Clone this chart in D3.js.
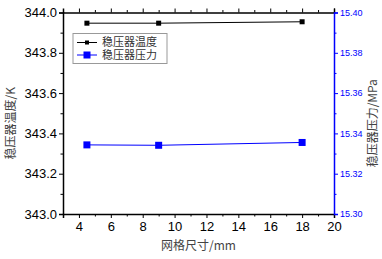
<!DOCTYPE html>
<html>
<head>
<meta charset="utf-8">
<script src="https://cdn.jsdelivr.net/npm/d3@7"></script>
<style>
  body { margin: 0; background: #fff; }
  svg text { font-family: "Liberation Sans", Arial, sans-serif; }
  .cjk { font-family: "Noto Sans CJK SC", sans-serif; }
</style>
</head>
<body>
<div id="chart"></div>
<script>
// grid size (mm) vs pressurizer temperature / pressure
const gridSize = [4.5, 9, 18]
const temperature = [343.947, 343.947, 343.954]
const pressure = [15.3343, 15.3341, 15.3355]
const xTicks = [4, 6, 8, 10, 12, 14, 16, 18, 20]
const tempTicks = [343.0, 343.2, 343.4, 343.6, 343.8, 344.0]
const presTicks = [15.30, 15.32, 15.34, 15.36, 15.38, 15.40]
const seriesNames = ["稳压器温度", "稳压器压力"]

const width = 382
const height = 259
const margin = { top: 12.5, right: 48, bottom: 45, left: 63 }
const plotWidth = width - margin.left - margin.right
const plotHeight = height - margin.top - margin.bottom
const blue = "#0000ff"

const svg = d3.select("#chart").append("svg")
  .attr("viewBox", [0, 0, width, height])
  .attr("width", width)
  .attr("height", height)

const plot = svg.append("g").attr("transform", `translate(${margin.left},${margin.top})`)

const xScale = d3.scaleLinear().domain([3, 20]).range([0, plotWidth])
const yTemp = d3.scaleLinear().domain([343.0, 344.0]).range([plotHeight, 0])
const yPres = d3.scaleLinear().domain([15.30, 15.40]).range([plotHeight, 0])

// minor ticks
const xMinor = d3.range(3, 20, 1).filter(v => !xTicks.includes(v))
const tempMinor = d3.range(343.1, 344.0, 0.2)
const presMinor = d3.range(15.31, 15.40, 0.02)

function styleAxis(g, color) {
  g.select(".domain").attr("stroke", color).attr("stroke-width", 1.5)
  g.selectAll(".tick line").attr("stroke", color).attr("stroke-width", 1)
  g.selectAll(".tick text").attr("fill", color)
}

// bottom
plot.append("g").attr("transform", `translate(0,${plotHeight})`)
  .call(d3.axisBottom(xScale).tickValues(xTicks).tickFormat(d3.format("d")).tickSizeOuter(0).tickSize(4).tickPadding(4))
  .call(g => styleAxis(g, "#000"))
  .call(g => g.selectAll(".tick text").attr("font-size", 13))
plot.append("g").attr("transform", `translate(0,${plotHeight})`)
  .call(d3.axisBottom(xScale).tickValues(xMinor).tickFormat("").tickSizeOuter(0).tickSize(2.5))
  .call(g => g.select(".domain").remove())

// top
plot.append("g")
  .call(d3.axisTop(xScale).tickValues(xTicks).tickFormat("").tickSizeOuter(0).tickSize(4))
  .call(g => styleAxis(g, "#000"))
plot.append("g")
  .call(d3.axisTop(xScale).tickValues(xMinor).tickFormat("").tickSizeOuter(0).tickSize(2.5))
  .call(g => g.select(".domain").remove())

// left
plot.append("g")
  .call(d3.axisLeft(yTemp).tickValues(tempTicks).tickFormat(d3.format(".1f")).tickSizeOuter(0).tickSize(4).tickPadding(2))
  .call(g => styleAxis(g, "#000"))
  .call(g => g.selectAll(".tick text").attr("font-size", 13))
plot.append("g")
  .call(d3.axisLeft(yTemp).tickValues(tempMinor).tickFormat("").tickSizeOuter(0).tickSize(2.5))
  .call(g => g.select(".domain").remove())

// right
plot.append("g").attr("transform", `translate(${plotWidth},0)`)
  .call(d3.axisRight(yPres).tickValues(presTicks).tickFormat(d3.format(".2f")).tickSizeOuter(0).tickSize(4).tickPadding(2))
  .call(g => styleAxis(g, blue))
  .call(g => g.selectAll(".tick text").attr("font-size", 9))
plot.append("g").attr("transform", `translate(${plotWidth},0)`)
  .call(d3.axisRight(yPres).tickValues(presMinor).tickFormat("").tickSizeOuter(0).tickSize(2.5))
  .call(g => g.select(".domain").remove())
  .call(g => g.selectAll(".tick line").attr("stroke", blue))

// series
const tempLine = d3.line().x((d, i) => xScale(gridSize[i])).y(d => yTemp(d))
const presLine = d3.line().x((d, i) => xScale(gridSize[i])).y(d => yPres(d))

plot.append("path").datum(temperature).attr("d", tempLine)
  .attr("fill", "none").attr("stroke", "#000").attr("stroke-width", 1)
plot.append("g").selectAll("rect").data(temperature).join("rect")
  .attr("x", (d, i) => xScale(gridSize[i]) - 2.5)
  .attr("y", d => yTemp(d) - 2.5)
  .attr("width", 5).attr("height", 5).attr("fill", "#000")

plot.append("path").datum(pressure).attr("d", presLine)
  .attr("fill", "none").attr("stroke", blue).attr("stroke-width", 1)
plot.append("g").selectAll("rect").data(pressure).join("rect")
  .attr("x", (d, i) => xScale(gridSize[i]) - 3.5)
  .attr("y", d => yPres(d) - 3.5)
  .attr("width", 7).attr("height", 7).attr("fill", blue)

// legend
const legend = plot.append("g").attr("transform", "translate(10,21)")
legend.append("rect").attr("width", 94).attr("height", 30)
  .attr("fill", "#fff").attr("stroke", "#999").attr("stroke-width", 1)
const items = legend.selectAll(".item").data(seriesNames).join("g")
  .attr("transform", (d, i) => `translate(4,${9 + i * 12.5})`)
items.append("line").attr("x1", 0).attr("x2", 20)
  .attr("stroke", (d, i) => i ? blue : "#000").attr("stroke-width", 1)
items.append("rect")
  .attr("x", (d, i) => i ? 6.5 : 8)
  .attr("y", (d, i) => i ? -3.5 : -2)
  .attr("width", (d, i) => i ? 7 : 4)
  .attr("height", (d, i) => i ? 7 : 4)
  .attr("fill", (d, i) => i ? blue : "#000")
items.append("text").attr("class", "cjk").attr("x", 25).attr("dy", "0.35em")
  .attr("font-size", 11).attr("fill", "#333").text(d => d)

// axis titles
svg.append("text").attr("class", "cjk")
  .attr("x", margin.left + xScale(11.5)).attr("y", 250)
  .attr("text-anchor", "middle").attr("font-size", 12).attr("fill", "#444")
  .text("网格尺寸/mm")
svg.append("text").attr("class", "cjk")
  .attr("transform", `translate(11,${margin.top + plotHeight / 2 + 10}) rotate(-90)`)
  .attr("text-anchor", "middle").attr("dy", "0.35em").attr("font-size", 12).attr("fill", "#444")
  .text("稳压器温度/K")
svg.append("text").attr("class", "cjk")
  .attr("transform", `translate(373,${margin.top + plotHeight / 2 + 10}) rotate(-90)`)
  .attr("text-anchor", "middle").attr("dy", "0.35em").attr("font-size", 12).attr("fill", "#444")
  .text("稳压器压力/MPa")
</script>
</body>
</html>
